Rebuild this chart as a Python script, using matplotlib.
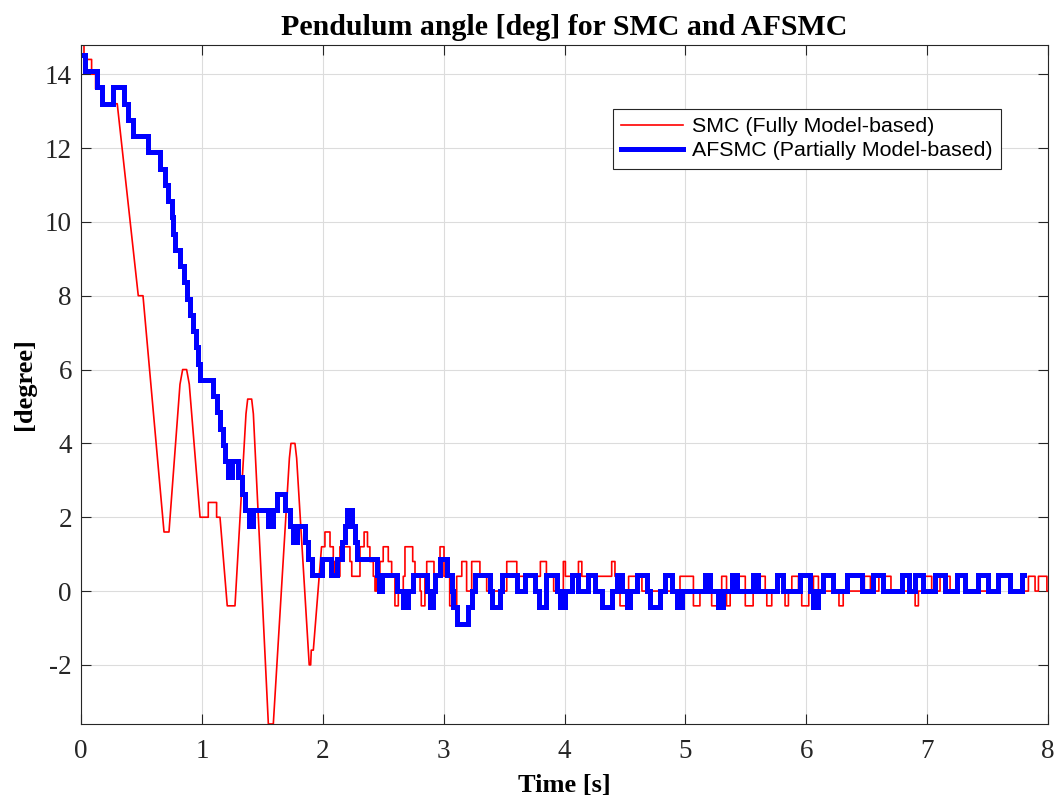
import numpy as np
import matplotlib
matplotlib.use('Agg')
import matplotlib.pyplot as plt

plt.rcParams['axes.unicode_minus'] = False

# SMC (red) - ramp part as vertices, then quantised steps
red_ramp_t = [0.0, 0.025, 0.025, 0.088, 0.088, 0.121, 0.121, 0.165, 0.165, 0.30,
              0.474, 0.513, 0.687, 0.728, 0.819, 0.841, 0.874, 0.896, 0.985, 1.053,
              1.053, 1.122, 1.122, 1.15, 1.21, 1.274, 1.365, 1.379, 1.412, 1.426,
              1.55, 1.591, 1.724, 1.737, 1.77, 1.784, 1.881, 1.888, 1.90, 1.905, 1.922]
red_ramp_v = [14.8, 14.8, 14.4, 14.4, 14.0, 14.0, 13.6, 13.6, 13.2, 13.2,
              8.0, 8.0, 1.6, 1.6, 5.6, 6.0, 6.0, 5.6, 2.0, 2.0,
              2.4, 2.4, 2.0, 2.0, -0.4, -0.4, 4.8, 5.2, 5.2, 4.8,
              -3.6, -3.6, 3.6, 4.0, 4.0, 3.6, -1.6, -2.0, -2.0, -1.6, -1.6]

red_step_t = [1.990, 2.018, 2.060, 2.087, 2.100, 2.142, 2.225, 2.240, 2.308, 2.342,
              2.370, 2.390, 2.418, 2.432, 2.446, 2.473, 2.500, 2.542, 2.570, 2.597,
              2.625, 2.666, 2.680, 2.744, 2.763, 2.805, 2.815, 2.845, 2.860, 2.920,
              2.970, 3.003, 3.050, 3.108, 3.150, 3.190, 3.232, 3.300, 3.356, 3.522,
              3.605, 3.800, 3.850, 3.910, 3.990, 4.007, 4.115, 4.143, 4.390, 4.417,
              4.459, 4.514, 4.530, 4.640, 4.955, 5.066, 5.120, 5.217, 5.300, 5.340,
              5.370, 5.424, 5.495, 5.560, 5.617, 5.660, 5.673, 5.714, 5.769, 5.810,
              5.824, 5.852, 5.880, 5.935, 5.962, 6.020, 6.059, 6.100, 6.270, 6.305,
              6.480, 6.530, 6.600, 6.700, 6.900, 6.927, 6.968, 7.037, 7.106, 7.189,
              7.260, 7.330, 7.600, 7.700, 7.837, 7.892, 7.920, 7.990]
red_step_v = [1.2, 1.6, 1.2, 0.8, 0.4, 1.2, 0.8, 0.4, 1.2, 1.6,
              1.2, 0.8, 0.4, 0.0, 0.4, 0.8, 1.2, 0.8, 0.4, -0.4,
              0.0, 0.4, 1.2, 0.8, 0.4, 0.0, -0.4, 0.4, 0.8, 0.4,
              1.2, 0.4, -0.4, 0.4, 0.8, 0.0, 0.8, 0.4, 0.0, 0.8,
              0.4, 0.8, 0.4, 0.0, 0.8, 0.4, 0.8, 0.4, 0.8, 0.4,
              -0.4, 0.0, 0.4, 0.0, 0.4, -0.4, 0.0, -0.4, 0.4, -0.4,
              0.0, 0.4, -0.4, 0.0, 0.4, 0.0, -0.4, 0.0, 0.4, 0.0,
              -0.4, 0.0, 0.4, 0.0, -0.4, 0.0, 0.4, 0.0, -0.4, 0.0,
              0.4, 0.0, 0.4, 0.0, -0.4, 0.0, 0.4, 0.0, 0.4, 0.0,
              0.4, 0.0, 0.4, 0.0, 0.4, 0.0, 0.4, 0.0]
red_end = 8.0

# AFSMC (blue) - quantised steps
blue_step_t = [0.000, 0.033, 0.130, 0.176, 0.267, 0.360, 0.386, 0.433, 0.557, 0.654,
               0.695, 0.717, 0.750, 0.764, 0.778, 0.819, 0.855, 0.880, 0.902, 0.924,
               0.951, 0.971, 0.985, 1.095, 1.123, 1.150, 1.172, 1.192, 1.220, 1.247,
               1.302, 1.330, 1.357, 1.393, 1.426, 1.550, 1.591, 1.619, 1.688, 1.730,
               1.757, 1.785, 1.853, 1.881, 1.908, 1.990, 2.070, 2.115, 2.156, 2.184,
               2.198, 2.240, 2.267, 2.286, 2.446, 2.468, 2.487, 2.611, 2.666, 2.708,
               2.750, 2.860, 2.888, 2.915, 2.930, 2.970, 3.025, 3.067, 3.080, 3.108,
               3.205, 3.232, 3.260, 3.385, 3.400, 3.467, 3.480, 3.605, 3.674, 3.757,
               3.785, 3.850, 3.936, 3.963, 4.005, 4.060, 4.115, 4.197, 4.252, 4.307,
               4.390, 4.431, 4.473, 4.514, 4.541, 4.597, 4.680, 4.707, 4.790, 4.830,
               4.886, 4.928, 4.970, 5.162, 5.204, 5.273, 5.314, 5.383, 5.424, 5.562,
               5.604, 5.755, 5.810, 5.948, 6.030, 6.053, 6.100, 6.141, 6.224, 6.335,
               6.459, 6.555, 6.638, 6.790, 6.850, 6.900, 6.968, 7.065, 7.148, 7.244,
               7.313, 7.424, 7.506, 7.589, 7.685, 7.782]
blue_step_v = [14.52, 14.08, 13.64, 13.20, 13.64, 13.20, 12.76, 12.32, 11.88, 11.44,
               11.00, 10.56, 10.12, 9.68, 9.24, 8.80, 8.36, 7.92, 7.48, 7.04,
               6.60, 6.16, 5.72, 5.28, 4.84, 4.40, 3.96, 3.52, 3.08, 3.52,
               3.08, 2.64, 2.20, 1.76, 2.20, 1.76, 2.20, 2.64, 2.20, 1.76,
               1.32, 1.76, 1.32, 0.88, 0.44, 0.88, 0.44, 0.88, 1.32, 1.76,
               2.20, 1.76, 1.32, 0.88, 0.44, 0.00, 0.44, 0.00, -0.44, 0.00,
               0.44, 0.00, -0.44, 0.00, 0.44, 0.88, 0.44, 0.00, -0.44, -0.88,
               -0.44, 0.00, 0.44, 0.00, -0.44, 0.00, 0.44, 0.00, 0.44, 0.00,
               -0.44, 0.44, 0.00, -0.44, 0.00, 0.44, 0.00, 0.44, 0.00, -0.44,
               0.00, 0.44, 0.00, -0.44, 0.00, 0.44, 0.00, -0.44, 0.00, 0.44,
               0.00, -0.44, 0.00, 0.44, 0.00, -0.44, 0.00, 0.44, 0.00, 0.44,
               0.00, 0.44, 0.00, 0.44, 0.00, -0.44, 0.00, 0.44, 0.00, 0.44,
               0.00, 0.44, 0.00, 0.44, 0.00, 0.44, 0.00, 0.44, 0.00, 0.44,
               0.00, 0.44, 0.00, 0.44, 0.00, 0.44]
blue_end = 7.80


def step_xy(ts, vs, t_end):
    # turn "level starts at t" lists into polyline vertices
    x, y = [], []
    for i, v in enumerate(vs):
        t1 = ts[i + 1] if i + 1 < len(ts) else t_end
        x += [ts[i], t1]
        y += [v, v]
    return x, y


sx, sy = step_xy(red_step_t, red_step_v, red_end)
red_x = red_ramp_t + sx
red_y = red_ramp_v + sy
blue_x, blue_y = step_xy(blue_step_t, blue_step_v, blue_end)

serif = ['Liberation Serif', 'DejaVu Serif']

fig = plt.figure(figsize=(10.57, 8.02), dpi=100)
ax = fig.add_axes([0.0766, 0.0973, 0.915, 0.847])

ax.plot(red_x, red_y, color='#ff0000', lw=1.2, label='SMC (Fully Model-based)')
ax.plot(blue_x, blue_y, color='#0000ff', lw=3.6, label='AFSMC (Partially Model-based)',
        solid_joinstyle='miter')

ax.set_xlim(0, 8)
ax.set_ylim(-3.6, 14.8)
ax.set_xticks(range(0, 9))
ax.set_yticks(range(-2, 15, 2))
ax.grid(True, color='#dcdcdc', lw=0.8)
ax.set_axisbelow(True)
ax.tick_params(direction='in', length=7, width=0.8, top=True, right=True,
               colors='#262626', labelsize=19.5)
ax.tick_params(axis='x', pad=11)
ax.tick_params(axis='y', pad=6.5)
for lab in ax.get_xticklabels() + ax.get_yticklabels():
    lab.set_family(serif)
for sp in ax.spines.values():
    sp.set_color('#262626')
    sp.set_linewidth(0.8)

ax.set_title('Pendulum angle [deg] for SMC and AFSMC', family=serif,
             fontweight='bold', fontsize=21.5, pad=7)
ax.set_xlabel('Time [s]', family=serif, fontweight='bold', fontsize=19, labelpad=7)
ax.set_ylabel('[degree]', family=serif, fontweight='bold', fontsize=19, labelpad=6)

leg = ax.legend(loc='upper right', bbox_to_anchor=(0.9515, 0.906),
                prop={'family': ['Liberation Sans', 'DejaVu Sans'], 'size': 15.4},
                fancybox=False, framealpha=1, edgecolor='#262626',
                handlelength=2.9, handletextpad=0.4, borderpad=0.4,
                labelspacing=0.25, borderaxespad=0)
leg.get_frame().set_linewidth(0.8)

fig.savefig('out.png', dpi=100)
